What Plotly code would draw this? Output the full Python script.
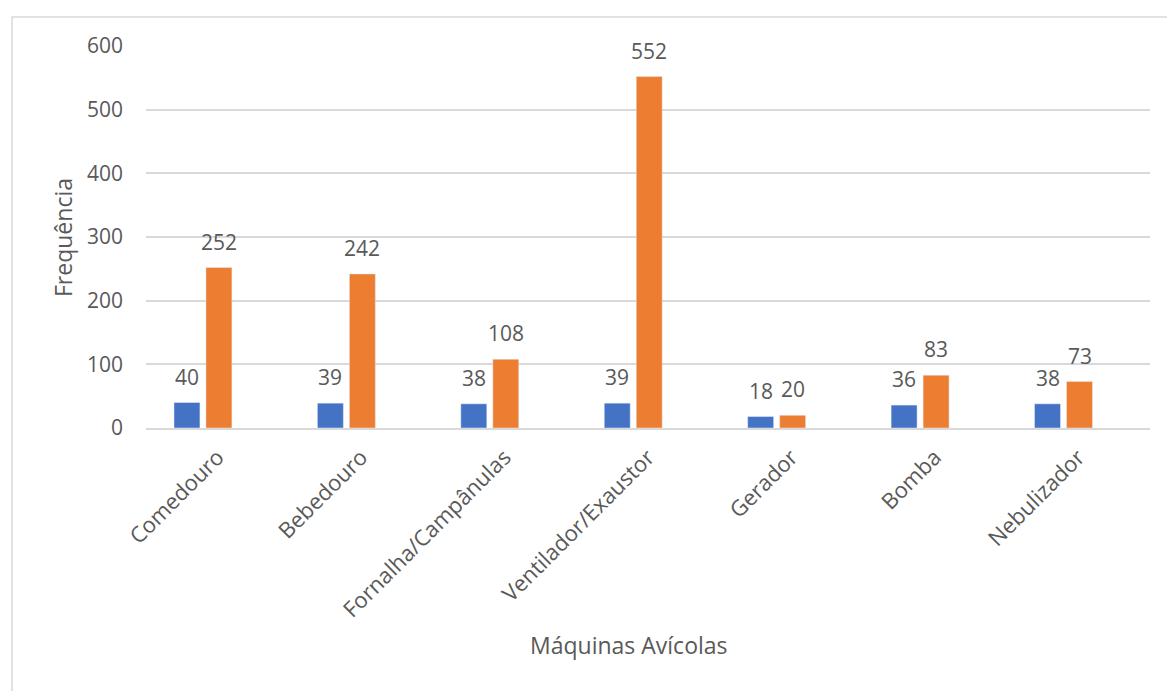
import plotly.graph_objects as go

categorias = ["Comedouro", "Bebedouro", "Fornalha/Campânulas", "Ventilador/Exaustor",
              "Gerador", "Bomba", "Nebulizador"]
serie_azul = [40, 39, 38, 39, 18, 36, 38]
serie_laranja = [252, 242, 108, 552, 20, 83, 73]
eixo_y_ticks = [0, 100, 200, 300, 400, 500, 600]

AZUL = "#4472C4"
LARANJA = "#ED7D31"
CINZA_TXT = "#595959"
CINZA_GRADE = "#D9D9D9"
FONTE = "Open Sans, Noto Sans, sans-serif"

# Largura e deslocamento das barras (em unidades de categoria)
LARG = 0.181
DESL_AZUL = -0.305
DESL_LARANJA = -0.082

fig = go.Figure()
fig.add_trace(go.Bar(x=categorias, y=serie_azul, marker_color=AZUL, name="Série 1",
                     width=LARG, offset=DESL_AZUL))
fig.add_trace(go.Bar(x=categorias, y=serie_laranja, marker_color=LARANJA, name="Série 2",
                     width=LARG, offset=DESL_LARANJA))

# Rótulos de dados acima de cada barra
for i, (va, vl) in enumerate(zip(serie_azul, serie_laranja)):
    for val, desl in ((va, DESL_AZUL), (vl, DESL_LARANJA)):
        fig.add_annotation(x=i + desl + LARG / 2, y=val, text=str(val), showarrow=False,
                           yshift=26, font=dict(family=FONTE, size=21, color=CINZA_TXT))

# Moldura da área do gráfico
L, R, T, B = 146, 17, 46, 263
W, H = 1167 - L - R, 691 - T - B
fig.add_shape(type="rect", xref="paper", yref="paper",
              x0=(12 - L) / W, x1=(1175 - L) / W,
              y0=(691 - B - 700) / H, y1=(691 - B - 17) / H,
              line=dict(color=CINZA_GRADE, width=1.5), layer="below")

# Títulos dos eixos
fig.add_annotation(text="Máquinas Avícolas", xref="paper", yref="paper",
                   x=(629 - L) / W, y=(691 - B - 645) / H, showarrow=False,
                   xanchor="center", yanchor="middle",
                   font=dict(family=FONTE, size=23, color=CINZA_TXT))
fig.add_annotation(text="Frequência", xref="paper", yref="paper", textangle=-90,
                   x=(63 - L) / W, y=(691 - B - 238) / H, showarrow=False,
                   xanchor="center", yanchor="middle",
                   font=dict(family=FONTE, size=23, color=CINZA_TXT))

fig.update_layout(
    width=1167, height=691,
    margin=dict(l=L, r=R, t=T, b=B),
    paper_bgcolor="white", plot_bgcolor="white",
    showlegend=False,
    font=dict(family=FONTE, size=21, color=CINZA_TXT),
)
fig.update_xaxes(
    tickangle=-45, showgrid=False, showline=True, linecolor=CINZA_GRADE, linewidth=1.5,
    ticks="", ticklabelstandoff=6, automargin=False,
    tickfont=dict(family=FONTE, size=22, color=CINZA_TXT),
)
fig.update_yaxes(
    range=[0, 600], tickvals=eixo_y_ticks, showgrid=True, gridcolor=CINZA_GRADE, gridwidth=1.5,
    zeroline=False, showline=False, ticks="", ticklabelstandoff=22, automargin=False,
    tickfont=dict(family=FONTE, size=21, color=CINZA_TXT),
)

fig.write_html("out.html")
